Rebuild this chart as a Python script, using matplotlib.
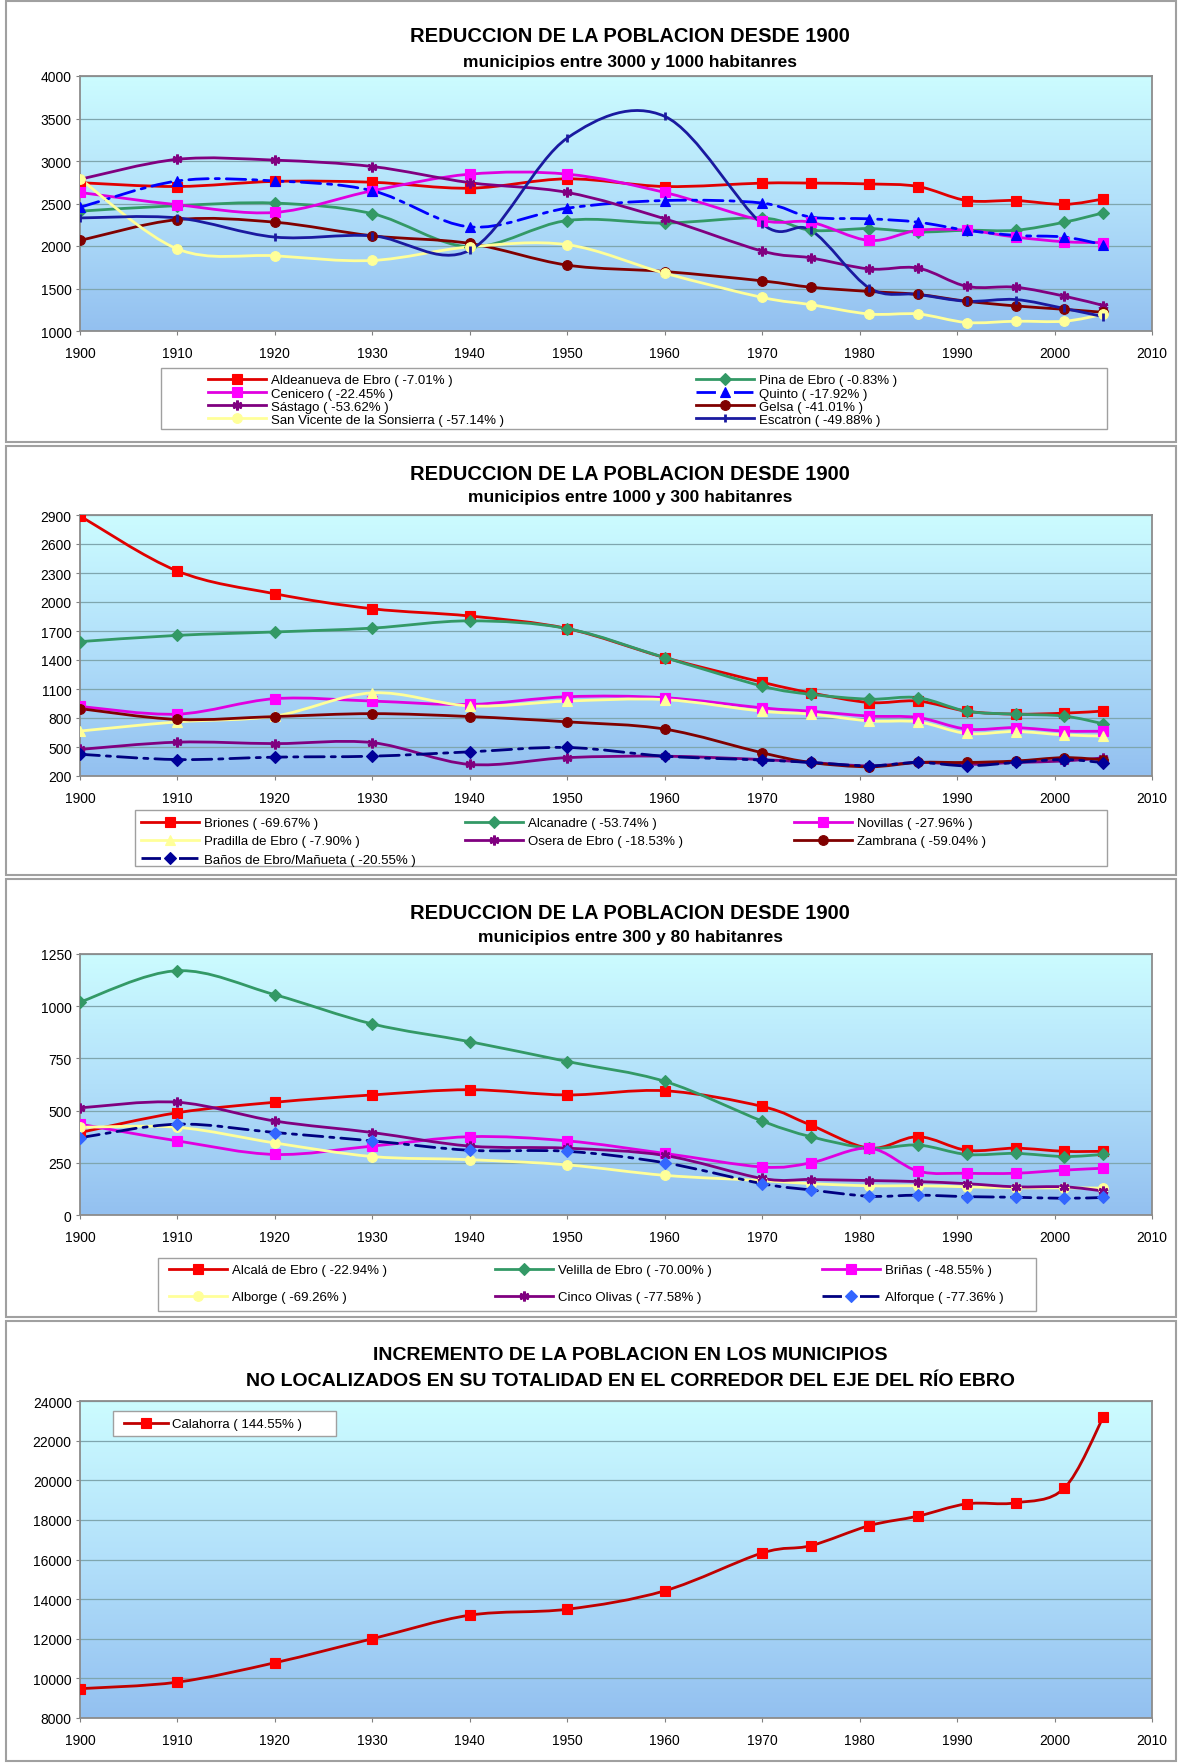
import numpy as np
import matplotlib.pyplot as plt
from matplotlib.path import Path
from matplotlib.patches import PathPatch, Rectangle
from matplotlib.lines import Line2D
from matplotlib.colors import LinearSegmentedColormap

plt.rcParams['font.family'] = ['Liberation Sans', 'DejaVu Sans']

# años de los censos
years = [1900, 1910, 1920, 1930, 1940, 1950, 1960, 1970, 1975, 1981, 1986, 1991, 1996, 2001, 2005]

# grupo 1: municipios entre 3000 y 1000 habitantes
aldeanueva = [2745, 2700, 2760, 2750, 2680, 2790, 2700, 2740, 2740, 2730, 2700, 2535, 2535, 2490, 2553]
pina = [2410, 2475, 2505, 2380, 1990, 2300, 2270, 2330, 2185, 2205, 2165, 2185, 2185, 2280, 2390]
cenicero = [2630, 2485, 2395, 2650, 2845, 2845, 2630, 2300, 2280, 2065, 2185, 2185, 2105, 2050, 2040]
quinto = [2455, 2765, 2765, 2650, 2225, 2445, 2535, 2505, 2340, 2320, 2280, 2185, 2125, 2105, 2015]
sastago = [2785, 3020, 3010, 2935, 2745, 2630, 2320, 1940, 1860, 1730, 1740, 1525, 1515, 1410, 1300]
gelsa = [2065, 2310, 2280, 2120, 2030, 1775, 1700, 1590, 1515, 1465, 1430, 1350, 1295, 1255, 1220]
san_vicente = [2790, 1965, 1885, 1830, 1990, 2015, 1680, 1395, 1310, 1200, 1200, 1100, 1115, 1115, 1195]
escatron = [2330, 2330, 2105, 2120, 1950, 3270, 3525, 2260, 2185, 1505, 1430, 1350, 1370, 1265, 1168]

# grupo 2: municipios entre 1000 y 300 habitantes
briones = [2890, 2320, 2085, 1930, 1855, 1725, 1425, 1170, 1060, 960, 975, 870, 840, 850, 872]
alcanadre = [1590, 1655, 1690, 1730, 1805, 1725, 1425, 1130, 1045, 995, 1010, 870, 840, 820, 740]
novillas = [920, 840, 1000, 975, 940, 1020, 1010, 905, 870, 820, 805, 685, 700, 665, 663]
pradilla = [665, 760, 820, 1060, 925, 975, 990, 870, 840, 770, 760, 640, 660, 625, 613]
osera = [475, 550, 535, 545, 320, 390, 405, 370, 340, 305, 340, 320, 340, 355, 388]
zambrana = [897, 785, 815, 845, 815, 760, 685, 440, 340, 295, 340, 340, 355, 390, 367]
banos = [425, 370, 395, 405, 450, 495, 405, 365, 340, 305, 340, 305, 340, 370, 338]

# grupo 3: municipios entre 300 y 80 habitantes
alcala = [395, 490, 540, 575, 600, 575, 595, 520, 430, 320, 375, 310, 320, 305, 305]
velilla = [1020, 1170, 1055, 915, 830, 735, 640, 450, 375, 320, 335, 290, 295, 280, 290]
brinas = [435, 355, 290, 330, 375, 355, 295, 230, 250, 320, 210, 200, 200, 215, 224]
alborge = [420, 420, 345, 280, 265, 240, 190, 165, 150, 140, 140, 135, 130, 130, 129]
cinco_olivas = [513, 540, 450, 395, 330, 320, 285, 175, 170, 165, 160, 150, 135, 135, 115]
alforque = [370, 435, 395, 355, 310, 305, 250, 150, 120, 90, 95, 88, 85, 80, 84]

# municipio con incremento
calahorra = [9480, 9810, 10790, 12000, 13190, 13490, 14420, 16330, 16700, 17710, 18190, 18810, 18860, 19600, 23183]

labels_1 = ['Aldeanueva de Ebro ( -7.01% )', 'Pina de Ebro ( -0.83% )', 'Cenicero ( -22.45% )',
            'Quinto ( -17.92% )', 'Sástago ( -53.62% )', 'Gelsa ( -41.01% )',
            'San Vicente de la Sonsierra ( -57.14% )', 'Escatron ( -49.88% )']
labels_2 = ['Briones ( -69.67% )', 'Alcanadre ( -53.74% )', 'Novillas ( -27.96% )',
            'Pradilla de Ebro ( -7.90% )', 'Osera de Ebro ( -18.53% )', 'Zambrana ( -59.04% )',
            'Baños de Ebro/Mañueta ( -20.55% )']
labels_3 = ['Alcalá de Ebro ( -22.94% )', 'Velilla de Ebro ( -70.00% )', 'Briñas ( -48.55% )',
            'Alborge ( -69.26% )', 'Cinco Olivas ( -77.58% )', 'Alforque ( -77.36% )']
labels_4 = ['Calahorra ( 144.55% )']

titulo = 'REDUCCION DE LA POBLACION DESDE 1900'
subtitulos = ['municipios entre 3000 y 1000 habitanres',
              'municipios entre 1000 y 300 habitanres',
              'municipios entre 300 y 80 habitanres']
titulo_4 = ['INCREMENTO DE LA POBLACION EN LOS MUNICIPIOS',
            'NO LOCALIZADOS EN SU TOTALIDAD EN EL CORREDOR DEL EJE DEL RÍO EBRO']

# estilos (color linea, color marcador, marcador, tipo de linea)
DASHDOT = (0, (7, 2.5, 1.5, 2.5))
ASTER = (6, 2, 0)
estilos_1 = [('#E00000', '#FF0000', 's', '-'), ('#339966', '#339966', 'D', '-'),
             ('#E000E0', '#FF00FF', 's', '-'), ('#0000FF', '#0000FF', '^', DASHDOT),
             ('#800080', '#800080', ASTER, '-'), ('#800000', '#800000', 'o', '-'),
             ('#FFFF99', '#FFFF99', 'o', '-'), ('#1A1AA0', '#1A1AA0', '|', '-')]
estilos_2 = [('#E00000', '#FF0000', 's', '-'), ('#339966', '#339966', 'D', '-'),
             ('#E000E0', '#FF00FF', 's', '-'), ('#FFFF99', '#FFFF99', '^', '-'),
             ('#800080', '#800080', ASTER, '-'), ('#800000', '#800000', 'o', '-'),
             ('#000080', '#000099', 'D', DASHDOT)]
estilos_3 = [('#E00000', '#FF0000', 's', '-'), ('#339966', '#339966', 'D', '-'),
             ('#E000E0', '#FF00FF', 's', '-'), ('#FFFF99', '#FFFF99', 'o', '-'),
             ('#800080', '#800080', ASTER, '-'), ('#000080', '#3366FF', 'D', DASHDOT)]
estilos_4 = [('#C00000', '#FF0000', 's', '-')]


def curva(x, y):
    # curva suavizada tipo Excel (bezier por los puntos)
    x = np.asarray(x, float)
    y = np.asarray(y, float)
    n = len(x)
    verts = [(x[0], y[0])]
    codes = [Path.MOVETO]
    for i in range(n - 1):
        i0 = max(i - 1, 0)
        i3 = min(i + 2, n - 1)
        c1 = (x[i] + (x[i + 1] - x[i0]) / 6, y[i] + (y[i + 1] - y[i0]) / 6)
        c2 = (x[i + 1] - (x[i3] - x[i]) / 6, y[i + 1] - (y[i3] - y[i]) / 6)
        verts += [c1, c2, (x[i + 1], y[i + 1])]
        codes += [Path.CURVE4] * 3
    return Path(verts, codes)


fondo = LinearSegmentedColormap.from_list('fondo', ['#93C0F0', '#B2E0FA', '#CCFCFF'])
W, H = 1181, 1765
fig = plt.figure(figsize=(W / 100, H / 100), dpi=100)


def px_box(x0, y0, x1, y1):
    return [x0 / W, 1 - y1 / H, (x1 - x0) / W, (y1 - y0) / H]


def panel(rect, series, estilos, ylim, ystep):
    ax = fig.add_axes(px_box(*rect))
    ax.imshow(np.linspace(0, 1, 256).reshape(-1, 1), cmap=fondo, origin='lower',
              extent=[1900, 2010, ylim[0], ylim[1]], aspect='auto', zorder=0)
    ax.set_xlim(1900, 2010)
    ax.set_ylim(*ylim)
    ax.set_xticks(range(1900, 2011, 10))
    ax.set_yticks(np.arange(ylim[0], ylim[1] + 1, ystep))
    ax.yaxis.grid(True, color='#7FA6AE', lw=0.9)
    for s in ax.spines.values():
        s.set_color('#8C8C8C')
        s.set_linewidth(1.3)
    ax.tick_params(labelsize=10, length=3, color='#808080', pad=3)
    ax.tick_params(axis='x', pad=8)
    handles = []
    for vals, (lc, mc, mk, ls) in zip(series, estilos):
        ax.add_patch(PathPatch(curva(years, vals), fill=False, edgecolor=lc, lw=2.0,
                               linestyle=ls, zorder=3, capstyle='round'))
        ms = 7 if mk not in ('D', '|') else 6
        mew = 2 if mk in (ASTER, '|') else 0.8
        mec = lc if mk == '|' else mc
        ax.plot(years, vals, ls='none', marker=mk, ms=ms, color=mc, mec=mec, mew=mew, zorder=4)
        handles.append(Line2D([], [], color=lc, ls=ls, lw=2.0, marker=mk, ms=ms,
                              mfc=mc, mec=mec, mew=mew))
    return ax, handles


def leyenda(handles, labels, columnas, col_x, y_top, marco, spacing, hl=4.4):
    # marco de la leyenda
    x0, y0, x1, y1 = marco
    fig.add_artist(Rectangle((x0 / W, 1 - y1 / H), (x1 - x0) / W, (y1 - y0) / H,
                             transform=fig.transFigure, facecolor='white',
                             edgecolor='#A0A0A0', lw=1.0, zorder=1))
    # una leyenda por columna, en su posicion
    for idx, cx in zip(columnas, col_x):
        leg = fig.legend([handles[i] for i in idx], [labels[i] for i in idx],
                         loc='upper left', bbox_to_anchor=(cx / W, 1 - y_top / H),
                         bbox_transform=fig.transFigure, frameon=False, fontsize=9.5,
                         labelspacing=spacing, handlelength=hl, handletextpad=0.35,
                         borderpad=0, borderaxespad=0)
        leg.set_zorder(2)


# marcos de cada gráfico
for y0, y1 in [(2, 443), (447, 876), (880, 1318), (1322, 1762)]:
    fig.add_artist(Rectangle((6 / W, 1 - y1 / H), 1170 / W, (y1 - y0) / H, transform=fig.transFigure,
                             fill=False, edgecolor='#A0A0A0', lw=1.5))

# panel 1
s1 = [aldeanueva, pina, cenicero, quinto, sastago, gelsa, san_vicente, escatron]
ax1, h1 = panel((80, 77, 1152, 332), s1, estilos_1, (1000, 4000), 500)
leyenda(h1, labels_1, [[0, 2, 4, 6], [1, 3, 5, 7]], [208, 696], 375, (161, 369, 1107, 430), 0.08)
fig.text(630 / W, 1 - 37 / H, titulo, ha='center', va='center', fontsize=14.5, fontweight='bold')
fig.text(630 / W, 1 - 62 / H, subtitulos[0], ha='center', va='center', fontsize=12.5, fontweight='bold')

# panel 2
s2 = [briones, alcanadre, novillas, pradilla, osera, zambrana, banos]
ax2, h2 = panel((80, 516, 1152, 777), s2, estilos_2, (200, 2900), 300)
leyenda(h2, labels_2, [[0, 3, 6], [1, 4], [2, 5]], [141, 465, 794], 818, (135, 811, 1107, 867), 0.45)
fig.text(630 / W, 1 - 475 / H, titulo, ha='center', va='center', fontsize=14.5, fontweight='bold')
fig.text(630 / W, 1 - 498 / H, subtitulos[1], ha='center', va='center', fontsize=12.5, fontweight='bold')

# panel 3
s3 = [alcala, velilla, brinas, alborge, cinco_olivas, alforque]
ax3, h3 = panel((80, 955, 1152, 1216), s3, estilos_3, (0, 1250), 250)
leyenda(h3, labels_3, [[0, 3], [1, 4], [2, 5]], [169, 495, 822], 1265, (158, 1259, 1036, 1312), 1.12)
fig.text(630 / W, 1 - 914 / H, titulo, ha='center', va='center', fontsize=14.5, fontweight='bold')
fig.text(630 / W, 1 - 938 / H, subtitulos[2], ha='center', va='center', fontsize=12.5, fontweight='bold')

# panel 4
ax4, h4 = panel((80, 1402, 1152, 1719), [calahorra], estilos_4, (8000, 24000), 2000)
leyenda(h4, labels_4, [[0]], [124], 1419, (113, 1412, 336, 1437), 0.2, hl=3.3)
fig.text(630 / W, 1 - 1356 / H, titulo_4[0], ha='center', va='center', fontsize=14, fontweight='bold')
fig.text(630 / W, 1 - 1382 / H, titulo_4[1], ha='center', va='center', fontsize=14, fontweight='bold')

fig.savefig('out.png', dpi=100, facecolor='white')
